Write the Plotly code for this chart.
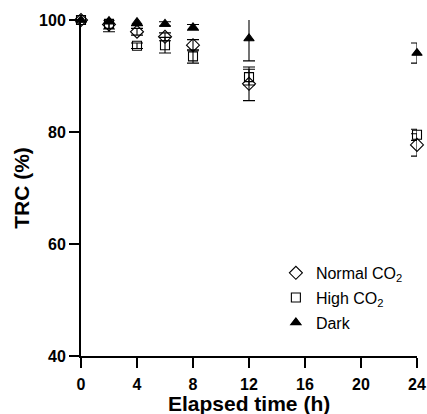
import plotly.graph_objects as go

time_h = [0, 2, 4, 6, 8, 12, 24]
normal_co2 = [100, 99.2, 97.9, 97.0, 95.5, 88.6, 77.7]
normal_err = [0.3, 0.8, 0.6, 0.7, 1.0, 3.0, 2.0]
high_co2 = [100, 99.3, 95.4, 95.5, 93.5, 89.8, 79.5]
high_err = [0.3, 1.4, 0.5, 1.4, 1.2, 1.4, 1.0]
dark = [100, 99.8, 99.6, 99.3, 98.7, 96.7, 94.1]
dark_err = [0.2, 0.5, 0.6, 0.4, 0.5, 4.0, 1.8]

series = [
    ("Normal CO<sub>2</sub>", normal_co2, normal_err, "diamond-open", 10),
    ("High CO<sub>2</sub>", high_co2, high_err, "square-open", 9),
    ("Dark", dark, dark_err, "triangle-up", 9),
]

fig = go.Figure()
for i, (name, vals, errs, sym, sz) in enumerate(series):
    fig.add_trace(go.Scatter(
        x=time_h, y=vals, mode="markers", name=name,
        legendgroup=str(i),
        marker=dict(symbol=sym, size=sz, color="black", line=dict(color="black", width=1.1)),
        error_y=dict(type="data", array=errs, visible=True, color="black", thickness=1.1, width=6),
        cliponaxis=False,
    ))

font_family = "Liberation Sans, Arial, sans-serif"
fig.update_layout(
    width=427, height=414,
    margin=dict(l=81, r=10, t=20, b=58),
    paper_bgcolor="white", plot_bgcolor="white",
    font=dict(family=font_family, color="black"),
    showlegend=True,
    legend=dict(x=0.58, y=0.298, xanchor="left", yanchor="top",
                font=dict(size=16, family=font_family), bgcolor="rgba(0,0,0,0)",
                traceorder="grouped", tracegroupgap=1, itemwidth=30),
    xaxis=dict(range=[0, 24], tickvals=[0, 4, 8, 12, 16, 20, 24],
               showline=True, linecolor="black", linewidth=2,
               ticks="outside", ticklen=10, tickwidth=2, tickcolor="black",
               showgrid=False, zeroline=False, ticklabelstandoff=3, automargin=False,
               tickfont=dict(size=16, weight="bold", family=font_family)),
    yaxis=dict(range=[40, 100], tickvals=[40, 60, 80, 100],
               showline=True, linecolor="black", linewidth=2,
               ticks="outside", ticklen=10, tickwidth=2, tickcolor="black",
               showgrid=False, zeroline=False, automargin=False,
               tickfont=dict(size=16, weight="bold", family=font_family),
               title=dict(text="TRC (%)", font=dict(size=21, weight="bold", family=font_family), standoff=4)),
    annotations=[dict(text="Elapsed time (h)", xref="paper", yref="paper", x=0.5, y=-0.14,
                      xanchor="center", yanchor="middle", showarrow=False,
                      font=dict(size=21, weight="bold", family=font_family))],
)

fig.write_html("out.html")
